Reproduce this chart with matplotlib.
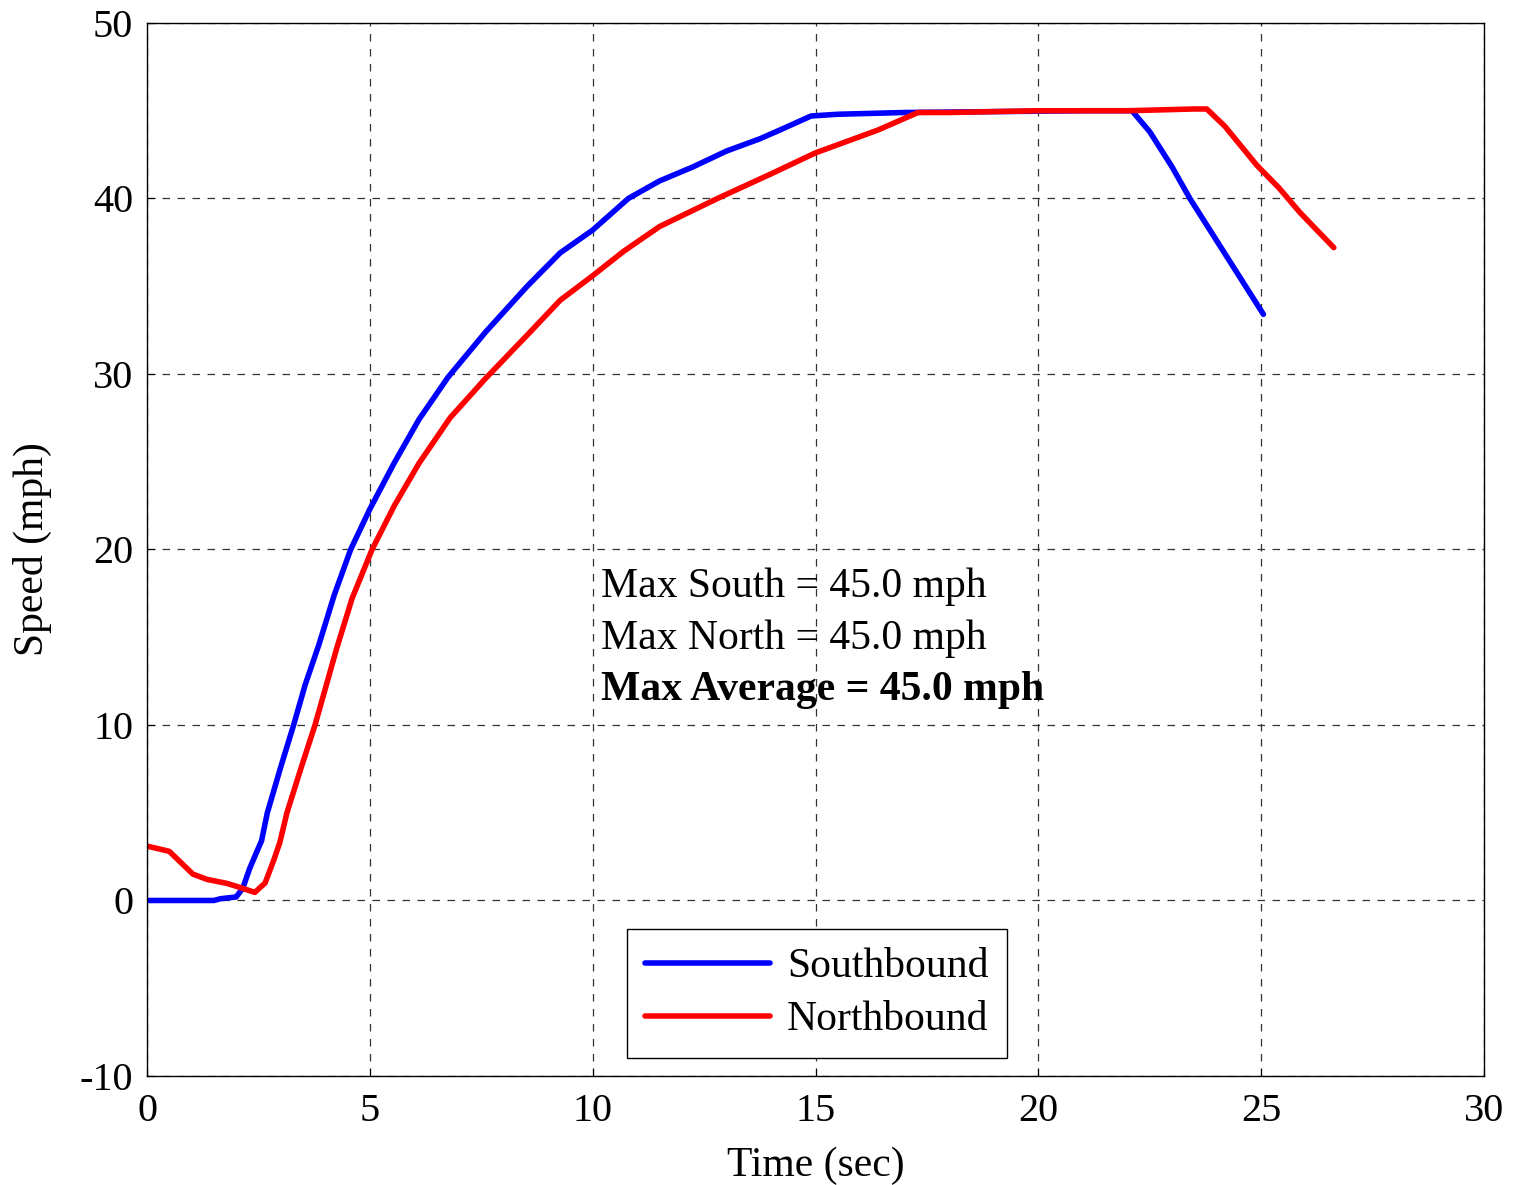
import matplotlib.pyplot as plt

# Southbound speed trace (time in sec, speed in mph)
t_south = [0, 1.5, 1.65, 2.0, 2.15, 2.3, 2.45, 2.57, 2.7, 3.0, 3.29, 3.55, 3.86, 4.2, 4.57,
           5.0, 5.54, 6.1, 6.75, 7.6, 8.53, 9.27, 10.0, 10.8, 11.5, 12.25, 13.0, 13.75,
           14.2, 14.9, 15.5, 17.0, 19.0, 21.0, 22.1, 22.5, 23.0, 23.4, 24.0, 24.5, 25.05]
v_south = [0, 0, 0.1, 0.2, 0.7, 1.8, 2.7, 3.4, 5.0, 7.6, 10.0, 12.3, 14.6, 17.4, 20.0,
           22.3, 24.9, 27.4, 29.8, 32.4, 35.0, 36.9, 38.2, 40.0, 41.0, 41.8, 42.7, 43.4,
           43.9, 44.7, 44.8, 44.9, 44.95, 45.0, 45.0, 43.8, 41.8, 40.0, 37.6, 35.6, 33.4]

# Northbound speed trace
t_north = [0, 0.5, 1.03, 1.35, 1.8, 2.09, 2.42, 2.65, 2.83, 2.98, 3.14, 3.45, 3.77, 4.26,
           4.6, 5.05, 5.55, 6.1, 6.8, 7.58, 8.6, 9.27, 10.0, 10.7, 11.5, 12.8, 14.0,
           15.0, 16.4, 17.3, 18.0, 20.0, 22.0, 23.5, 23.78, 24.19, 24.9, 25.4, 25.87, 26.63]
v_north = [3.1, 2.8, 1.5, 1.2, 0.97, 0.74, 0.46, 1.0, 2.2, 3.3, 5.0, 7.5, 10.0, 14.4,
           17.2, 20.0, 22.5, 24.9, 27.5, 29.7, 32.4, 34.2, 35.6, 37.0, 38.4, 40.0, 41.4,
           42.6, 43.9, 44.9, 44.9, 45.0, 45.0, 45.1, 45.1, 44.1, 41.9, 40.6, 39.2, 37.2]

stats = ['Max South = 45.0 mph', 'Max North = 45.0 mph', 'Max Average = 45.0 mph']

plt.rcParams['font.family'] = ['Liberation Serif', 'DejaVu Serif']
plt.rcParams['axes.unicode_minus'] = False

fig = plt.figure(figsize=(15.14, 11.85), dpi=100)
ax = fig.add_axes([0.0971, 0.092, 0.8831, 0.8886])

ax.plot(t_south, v_south, color='blue', lw=4, label='Southbound', solid_capstyle='round')
ax.plot(t_north, v_north, color='red', lw=4, label='Northbound', solid_capstyle='round')

ax.set_xlim(0, 30)
ax.set_ylim(-10, 50)
ax.set_xticks(range(0, 31, 5))
ax.set_yticks(range(-10, 51, 10))
ax.grid(True, color='#333333', linestyle=(0, (6, 6)), linewidth=0.9)
ax.tick_params(labelsize=29, direction='in', length=6)
ax.tick_params(axis='x', pad=12)
ax.tick_params(axis='y', pad=10)
for s in ax.spines.values():
    s.set_linewidth(1.0)

ax.set_xlabel('Time (sec)', fontsize=30, labelpad=12)
ax.set_ylabel('Speed (mph)', fontsize=30, labelpad=20)

# annotation text
ax.text(10.19, 17.3, stats[0], fontsize=30)
ax.text(10.19, 14.35, stats[1], fontsize=30)
ax.text(10.19, 11.45, stats[2], fontsize=30, fontweight='bold')

leg = ax.legend(loc='lower center', bbox_to_anchor=(0.501, 0.017), fontsize=30,
                handlelength=3.0, fancybox=False, framealpha=1, edgecolor='black',
                borderpad=0.45, labelspacing=0.35, handletextpad=0.4, borderaxespad=0)
leg.get_frame().set_linewidth(1.0)

fig.savefig('out.png', dpi=100)
